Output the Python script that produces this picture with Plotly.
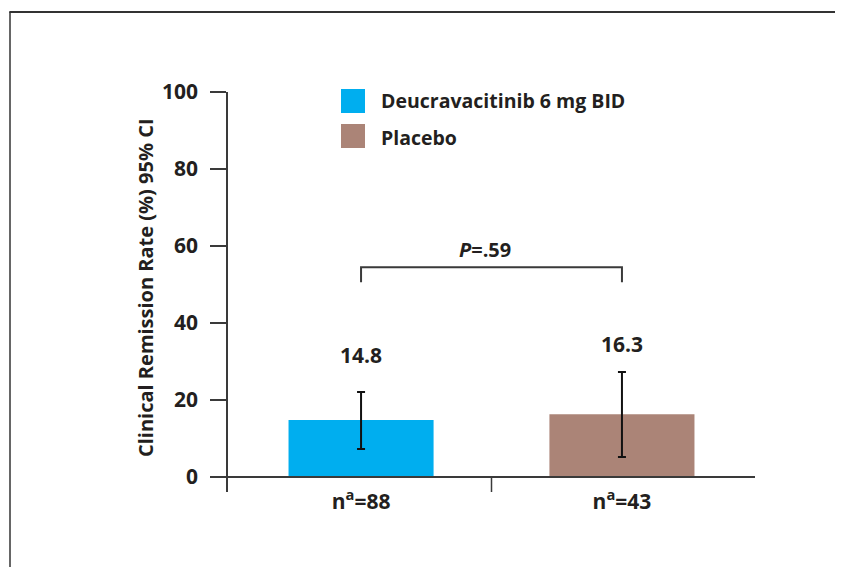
import plotly.graph_objects as go

# ---- data ----
series_names = ["Deucravacitinib 6 mg BID", "Placebo"]
tick_labels = ["n<sup>a</sup>=88", "n<sup>a</sup>=43"]
rates = [14.8, 16.3]
ci_upper = [22.1, 27.3]
ci_lower = [7.3, 5.2]
value_label_y = [31.7, 34.5]
p_text = "<i>P</i>=.59"
p_bracket_y = 54.5
p_bracket_drop = 50.6
p_label_y = 59.2
y_ticks = [0, 20, 40, 60, 80, 100]
y_title = "Clinical Remission Rate (%) 95% CI"

colors = ["#00AEEF", "#AB8477"]
TXT = "#231F20"
LINE = "#3a3a3a"
FONT = "Open Sans"

W, H = 843, 567
OFF = 8  # page offset of the figure in the screenshot
SX0, SX1, SY0, SY1 = 228, 755, 92, 492
L, T = SX0 - OFF, SY0 - OFF
R = W - (SX1 - OFF)
B = H - (SY1 - OFF)
PW, PH = SX1 - SX0, SY1 - SY0


def px_x(px):
    return (px - SX0) / PW


def px_y(py):
    return (SY1 - py) / PH


x = [0, 1]
fig = go.Figure()
for i in range(2):
    fig.add_trace(go.Bar(
        x=[x[i]], y=[rates[i]], width=0.556,
        marker=dict(color=colors[i], line=dict(width=0)),
        name=series_names[i], showlegend=False,
        error_y=dict(type="data", symmetric=False,
                     array=[ci_upper[i] - rates[i]],
                     arrayminus=[rates[i] - ci_lower[i]],
                     color="#111111", thickness=2, width=4),
    ))

ann = []
for i in range(2):
    ann.append(dict(x=x[i], y=value_label_y[i], text=f"<b>{rates[i]}</b>",
                    showarrow=False, font=dict(size=21, color=TXT, family=FONT),
                    xref="x", yref="y"))
ann.append(dict(x=0.475, y=p_label_y, text=f"<b>{p_text}</b>", showarrow=False,
                font=dict(size=20, color=TXT, family=FONT), xref="x", yref="y"))
ann.append(dict(x=px_x(145), y=px_y(288), xref="paper", yref="paper",
                xanchor="center", yanchor="middle",
                text=f"<b>{y_title}</b>", textangle=-90, showarrow=False,
                font=dict(size=20, color=TXT, family=FONT)))
leg_y = [101, 137]
for i in range(2):
    ann.append(dict(x=px_x(379), y=px_y(leg_y[i]), xref="paper", yref="paper",
                    xanchor="left", yanchor="middle", showarrow=False,
                    text=f"<b>{series_names[i]}</b>",
                    font=dict(size=19.5, color=TXT, family=FONT)))

shapes = []
sq = [(89, 113), (124, 148)]
for i in range(2):
    shapes.append(dict(type="rect", xref="paper", yref="paper",
                       x0=px_x(341), x1=px_x(365), y0=px_y(sq[i][1]), y1=px_y(sq[i][0]),
                       fillcolor=colors[i], line=dict(width=0)))
shapes.append(dict(type="line", xref="paper", yref="y", x0=0, x1=1, y0=0, y1=0,
                   line=dict(color=LINE, width=2)))
shapes.append(dict(type="line", xref="x", yref="paper", x0=0.5, x1=0.5,
                   y0=0, y1=px_y(477), line=dict(color=LINE, width=1.5)))
shapes.append(dict(type="path", xref="x", yref="y",
                   path=f"M 0 {p_bracket_drop} L 0 {p_bracket_y} L 1 {p_bracket_y} L 1 {p_bracket_drop}",
                   line=dict(color=LINE, width=2)))
shapes.append(dict(type="line", xref="paper", yref="paper",
                   x0=px_x(10), x1=px_x(10), y0=px_y(12), y1=px_y(H + 10),
                   line=dict(color="#333333", width=1.5)))
shapes.append(dict(type="line", xref="paper", yref="paper",
                   x0=px_x(9.3), x1=px_x(W + 10), y0=px_y(12), y1=px_y(12),
                   line=dict(color="#333333", width=2)))

y_lo = -(SY1 - 477) / 3.85
fig.update_layout(
    width=W, height=H, margin=dict(l=L, r=R, t=T, b=B, autoexpand=False),
    paper_bgcolor="white", plot_bgcolor="white",
    barmode="overlay",
    annotations=ann, shapes=shapes,
    xaxis=dict(range=[-0.51, 1.51], tickvals=x, ticktext=[f"<b>{t}</b>" for t in tick_labels],
               showline=False, showgrid=False, zeroline=False, ticks="",
               ticklabelstandoff=-5,
               tickfont=dict(size=21, color=TXT, family=FONT)),
    yaxis=dict(range=[y_lo, 100], tickvals=y_ticks,
               ticktext=[f"<b>{v}</b>" for v in y_ticks],
               showline=True, linecolor=LINE, linewidth=1.5,
               ticks="outside", ticklen=16, tickwidth=1.5, tickcolor=LINE,
               showgrid=False, zeroline=False, ticklabelstandoff=8,
               tickfont=dict(size=21, color=TXT, family=FONT)),
)

fig.write_html("out.html")
